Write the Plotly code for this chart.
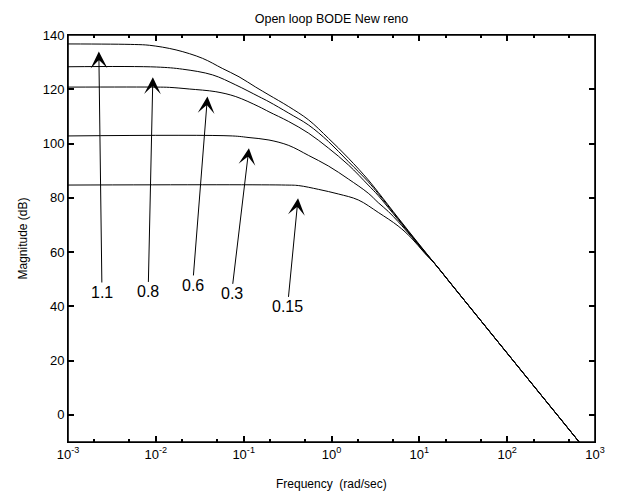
import numpy as np
import plotly.graph_objects as go

# Open-loop Bode magnitude for five gain settings
gain_labels = ["1.1", "0.8", "0.6", "0.3", "0.15"]

freq_k110 = [0.001, 0.0057, 0.0085, 0.017, 0.034, 0.057, 0.0885, 0.137, 0.194,
             0.326, 0.549, 0.925, 1.56, 2.62, 3.41, 5.74, 9.66]
mag_k110 = [136.7, 136.5, 136.2, 134.5, 131.4, 127.7, 124.6, 120.8, 117.9,
            113.6, 108.7, 101.9, 94.6, 86.6, 82.0, 72.6, 63.4]

freq_k080 = [0.001, 0.0102, 0.0202, 0.0442, 0.0813, 0.149, 0.194, 0.326,
             0.549, 0.925, 1.56, 2.62, 3.41, 5.74, 9.66]
mag_k080 = [128.3, 128.2, 127.4, 125.3, 121.6, 117.3, 115.4, 111.2,
            106.8, 100.7, 93.3, 85.9, 81.5, 72.3, 63.2]

freq_k060 = [0.001, 0.0102, 0.0143, 0.024, 0.0482, 0.0813, 0.149, 0.194,
             0.326, 0.549, 0.925, 1.56, 2.62, 3.41, 5.74, 9.66]
mag_k060 = [120.8, 120.8, 120.7, 120.1, 119.1, 117.3, 113.6, 111.7,
            108.1, 103.8, 98.3, 92.1, 84.7, 80.8, 71.9, 63.0]

freq_k030 = [0.001, 0.0743, 0.115, 0.194, 0.326, 0.549, 0.925, 1.56, 2.62,
             3.41, 4.42, 5.74, 8.11, 11.5]
mag_k030 = [102.8, 102.8, 102.2, 101.3, 99.3, 95.6, 91.7, 86.9, 81.7,
            78.2, 75.0, 71.2, 65.7, 59.8]

freq_k015 = [0.001, 0.3, 0.423, 0.713, 1.20, 2.02, 3.41, 5.74, 8.11, 11.5]
mag_k015 = [84.7, 84.7, 84.5, 83.1, 81.4, 79.2, 74.6, 69.6, 65.2, 59.6]

# common high-frequency roll-off shared by all gains
freq_tail = [15, 25, 60, 150, 400, 1000]
mag_tail = [55.7, 46.8, 31.6, 15.7, -1.3, -17.2]

curves = [
    (freq_k110, mag_k110),
    (freq_k080, mag_k080),
    (freq_k060, mag_k060),
    (freq_k030, mag_k030),
    (freq_k015, mag_k015),
]

# arrow tips on the curves and the label anchor below each arrow
arrow_tip_freq = [0.002244, 0.00925, 0.0387, 0.1148, 0.416]
arrow_tip_mag = [133.9, 124.4, 117.3, 98.3, 79.8]
label_freq = [0.002438, 0.00818, 0.02624, 0.0728, 0.3155]
label_mag = [45.1, 45.3, 47.7, 44.6, 39.8]

# decade tick positions and their labels
x_tick_vals = [1e-3, 1e-2, 1e-1, 1e0, 1e1, 1e2, 1e3]
x_tick_text = ["10<sup>-3</sup>", "10<sup>-2</sup>", "10<sup>-1</sup>",
               "10<sup>0</sup>", "10<sup>1</sup>", "10<sup>2</sup>",
               "10<sup>3</sup>"]
y_tick_vals = [0, 20, 40, 60, 80, 100, 120, 140]

FONT = "Liberation Sans, Arial, Helvetica, sans-serif"

fig = go.Figure()
for (f, m), name in zip(curves, gain_labels):
    fig.add_trace(go.Scatter(
        x=list(f) + freq_tail,
        y=list(m) + mag_tail,
        mode="lines",
        line=dict(color="black", width=1, shape="spline", smoothing=1.0),
        name=name,
        showlegend=False,
        hoverinfo="skip",
    ))

for txt, tf, tm, lf, lm in zip(gain_labels, arrow_tip_freq, arrow_tip_mag,
                               label_freq, label_mag):
    fig.add_annotation(
        x=np.log10(tf), y=tm, xref="x", yref="y",
        ax=np.log10(lf), ay=lm, axref="x", ayref="y",
        text=txt, showarrow=True,
        arrowhead=3, arrowsize=2.8, arrowwidth=1, arrowcolor="black",
        font=dict(family=FONT, size=16, color="black"),
    )

# axis titles
fig.add_annotation(
    text="Frequency\u00a0 (rad/sec)", xref="paper", yref="paper",
    x=0.5, y=0, yshift=-42, showarrow=False, yanchor="middle",
    font=dict(family=FONT, size=12, color="black"),
)
fig.add_annotation(
    text="Magnitude (dB)", xref="paper", yref="paper",
    x=0, y=0.5, xshift=-46, showarrow=False, textangle=-90,
    xanchor="center", yanchor="middle",
    font=dict(family=FONT, size=12, color="black"),
)

# heavier box around the plotting area
fig.add_shape(type="rect", xref="paper", yref="paper", x0=0, x1=1, y0=0, y1=1,
              line=dict(color="black", width=1.6), layer="above")

fig.update_layout(
    width=617, height=494,
    margin=dict(l=68, r=19, t=35, b=52),
    plot_bgcolor="white",
    title=dict(text="Open loop BODE New reno", x=0.5, xref="paper",
               xanchor="center", y=1 - 19 / 494, yanchor="middle",
               font=dict(family=FONT, size=12.5, color="black")),
)

fig.update_xaxes(
    type="log", range=[-3, 3],
    tickmode="array", tickvals=x_tick_vals, ticktext=x_tick_text,
    showline=True, linecolor="black", linewidth=1, mirror="ticks",
    ticks="inside", ticklen=6, tickwidth=1.5, tickcolor="#000000",
    minor=dict(ticks="inside", ticklen=3, tickwidth=1.5, tickcolor="#000000"),
    tickfont=dict(family=FONT, size=13, color="black"),
)
fig.update_yaxes(
    range=[-10, 140], tickmode="array", tickvals=y_tick_vals,
    showline=True, linecolor="black", linewidth=1, mirror="ticks",
    ticks="inside", ticklen=6, tickwidth=1.5, tickcolor="#000000",
    tickfont=dict(family=FONT, size=13, color="black"),
)

fig.write_html("out.html")
